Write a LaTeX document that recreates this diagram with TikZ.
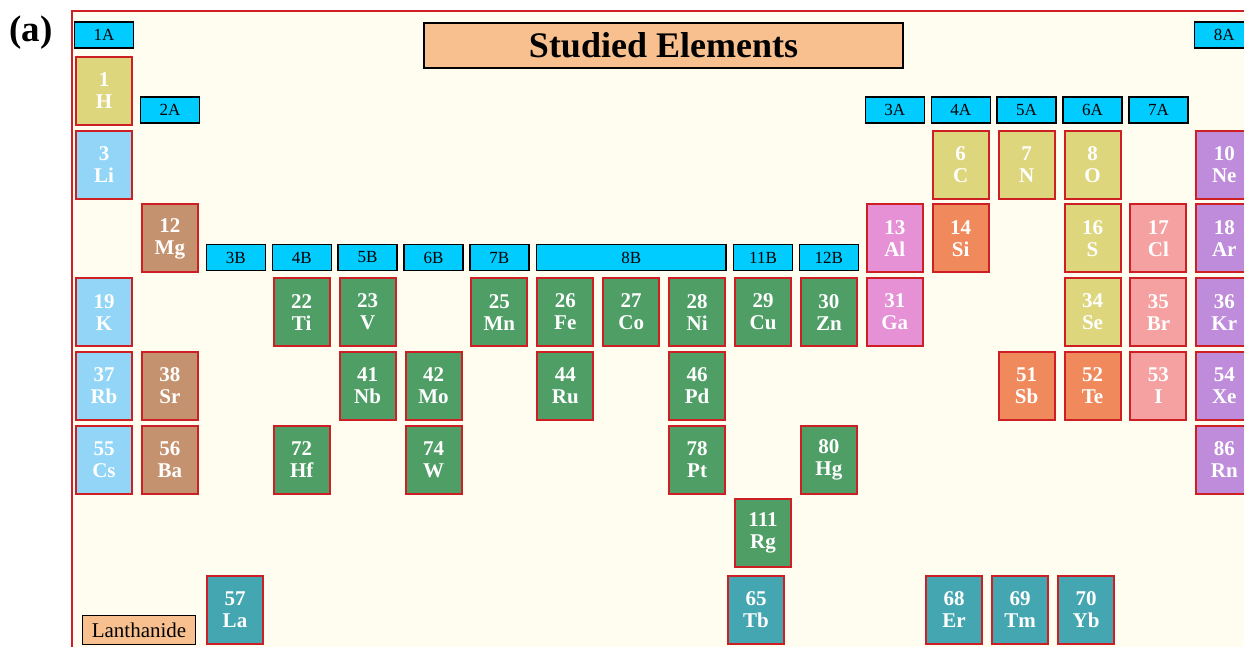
\documentclass[tikz,border=0pt]{standalone}
\usepackage{fontspec}
\setmainfont{Liberation Serif}
\definecolor{frameRed}{RGB}{206,32,36}
\definecolor{paper}{RGB}{255,252,240}
\definecolor{grpCyan}{RGB}{0,204,255}
\definecolor{titleFill}{RGB}{249,192,143}
\definecolor{cYel}{RGB}{221,214,124}
\definecolor{cAlk}{RGB}{146,213,247}
\definecolor{cEar}{RGB}{196,146,110}
\definecolor{cTm}{RGB}{78,158,102}
\definecolor{cLan}{RGB}{68,166,176}
\definecolor{cPnk}{RGB}{230,144,214}
\definecolor{cOrg}{RGB}{240,137,92}
\definecolor{cHal}{RGB}{246,161,161}
\definecolor{cNob}{RGB}{190,140,218}
\begin{document}
\begin{tikzpicture}[x=1pt,y=-1pt,
  elbox/.style={draw=frameRed, line width=2pt, minimum width=56pt, minimum height=68pt,
    inner sep=0pt, text=white, font=\fontsize{21}{22}\selectfont\bfseries, align=center},
  grp/.style={draw=black, line width=1.3pt, fill=grpCyan, minimum width=59pt, minimum height=26pt,
    inner sep=0pt, font=\fontsize{17}{17}\selectfont},
  tag/.style={draw=black, line width=1.3pt, fill=titleFill, inner sep=0pt}]
\useasboundingbox (0,0) rectangle (1244,647);
\clip (0,0) rectangle (1244,647);
% frame of the table
\fill[paper] (72,11) rectangle (1260,660);
\draw[frameRed, line width=1.8pt] (72,660) -- (72,11) -- (1260,11);
\node[font=\fontsize{37}{37}\selectfont\bfseries] (lbl) at (31,33) {(a)};
% title and legend
\node[tag, minimum width=479pt, minimum height=45pt, font=\fontsize{36}{36}\selectfont\bfseries]
  (title) at (663.5,45.5) {Studied Elements};
\node[tag, minimum width=113pt, minimum height=29pt, font=\fontsize{21}{21}\selectfont]
  (lanth) at (139,630) {Lanthanide};
% column centres
\def\cx#1{(76+(#1-1)*65.9+28)}
% group labels
\node[grp] (g1A) at ({\cx{1}},35) {1A};
\node[grp] (g8A) at ({\cx{18}},35) {8A};
\node[grp] (g2A) at ({\cx{2}},110) {2A};
\foreach \c/\t in {13/3A,14/4A,15/5A,16/6A,17/7A}
  \node[grp] (g\t) at ({\cx{\c}},110) {\t};
\foreach \c/\t in {3/3B,4/4B,5/5B,6/6B,7/7B,11/11B,12/12B}
  \node[grp] (g\t) at ({\cx{\c}},257.5) {\t};
\node[grp, minimum width=189.8pt] (g8B) at ({\cx{9}},257.5) {8B};
% elements: column/row/number/symbol/colour
\foreach \c/\r/\n/\s/\f in {
  1/1/1/H/cYel, 1/2/3/Li/cAlk,
  14/2/6/C/cYel, 15/2/7/N/cYel, 16/2/8/O/cYel, 18/2/10/Ne/cNob,
  2/3/12/Mg/cEar, 13/3/13/Al/cPnk, 14/3/14/Si/cOrg, 16/3/16/S/cYel, 17/3/17/Cl/cHal, 18/3/18/Ar/cNob,
  1/4/19/K/cAlk, 4/4/22/Ti/cTm, 5/4/23/V/cTm, 7/4/25/Mn/cTm, 8/4/26/Fe/cTm, 9/4/27/Co/cTm,
  10/4/28/Ni/cTm, 11/4/29/Cu/cTm, 12/4/30/Zn/cTm, 13/4/31/Ga/cPnk, 16/4/34/Se/cYel,
  17/4/35/Br/cHal, 18/4/36/Kr/cNob,
  1/5/37/Rb/cAlk, 2/5/38/Sr/cEar, 5/5/41/Nb/cTm, 6/5/42/Mo/cTm, 8/5/44/Ru/cTm, 10/5/46/Pd/cTm,
  15/5/51/Sb/cOrg, 16/5/52/Te/cOrg, 17/5/53/I/cHal, 18/5/54/Xe/cNob,
  1/6/55/Cs/cAlk, 2/6/56/Ba/cEar, 4/6/72/Hf/cTm, 6/6/74/W/cTm, 10/6/78/Pt/cTm, 12/6/80/Hg/cTm,
  18/6/86/Rn/cNob,
  11/7/111/Rg/cTm}
  \node[elbox, fill=\f] (e\n) at ({\cx{\c}},{57+(\r-1)*73.7+34}) {\n\\\s};
% lanthanide row
\foreach \x/\n/\s in {207/57/La, 728/65/Tb, 926/68/Er, 992/69/Tm, 1058/70/Yb}
  \node[elbox, fill=cLan] (e\n) at (\x+28,610) {\n\\\s};
\end{tikzpicture}
\end{document}
